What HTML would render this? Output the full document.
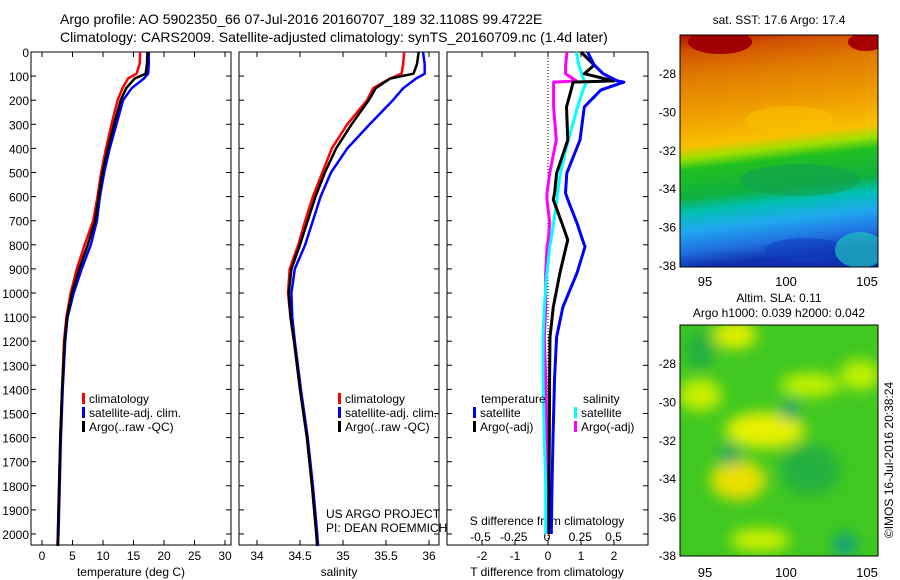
<!DOCTYPE html>
<html><head><meta charset="utf-8">
<style>
body{margin:0;background:#fff;}
svg{display:block;font-family:"Liberation Sans",sans-serif;}
text{fill:#000;}
</style></head>
<body>
<svg id="chart" width="900" height="580" viewBox="0 0 900 580" xmlns="http://www.w3.org/2000/svg">
<defs>
<linearGradient id="sst" x1="0" y1="0" x2="0.1" y2="1">
<stop offset="0" stop-color="#b01000"/>
<stop offset="0.07" stop-color="#d05000"/>
<stop offset="0.18" stop-color="#e07a00"/>
<stop offset="0.36" stop-color="#f0a000"/>
<stop offset="0.48" stop-color="#f8c000"/>
<stop offset="0.53" stop-color="#a0e000"/>
<stop offset="0.58" stop-color="#20c020"/>
<stop offset="0.7" stop-color="#10b040"/>
<stop offset="0.76" stop-color="#00c0b0"/>
<stop offset="0.84" stop-color="#20a8f0"/>
<stop offset="0.93" stop-color="#2070e0"/>
<stop offset="1" stop-color="#1030b0"/>
</linearGradient>
<filter id="blur"><feGaussianBlur stdDeviation="7"/></filter>
<clipPath id="c2"><rect x="680" y="325" width="198" height="231"/></clipPath>
<clipPath id="c1"><rect x="680" y="35" width="198" height="232"/></clipPath>
</defs>
<text x="60" y="24" font-size="14">Argo profile: AO 5902350_66 07-Jul-2016 20160707_189 32.1108S 99.4722E</text>
<text x="60" y="42" font-size="14">Climatology: CARS2009. Satellite-adjusted climatology: synTS_20160709.nc (1.4d later)</text>
<g id="g"></g>
<g clip-path="url(#c1)">
<rect x="680" y="35" width="198" height="232" fill="url(#sst)"/>
<ellipse cx="720" cy="42" rx="32" ry="12" fill="#a00000"/>
<ellipse cx="866" cy="42" rx="18" ry="9" fill="#a80000"/>
<ellipse cx="790" cy="120" rx="45" ry="14" fill="#f8c000" opacity="0.6"/>
<ellipse cx="800" cy="180" rx="60" ry="16" fill="#10a050" opacity="0.6"/>
<ellipse cx="805" cy="250" rx="40" ry="12" fill="#1040c0" opacity="0.6"/>
<ellipse cx="860" cy="250" rx="25" ry="18" fill="#20c0c0" opacity="0.7"/>
</g>
<rect x="680" y="35" width="198" height="232" fill="none" stroke="#000"/>
<text x="779" y="24" font-size="12" text-anchor="middle">sat. SST: 17.6 Argo: 17.4</text>
<g clip-path="url(#c2)">
<rect x="680" y="325" width="198" height="231" fill="#40c820"/>
<g filter="url(#blur)">
<ellipse cx="735" cy="335" rx="22" ry="14" fill="#e0f000"/>
<ellipse cx="700" cy="395" rx="22" ry="16" fill="#c8f000"/>
<ellipse cx="765" cy="430" rx="40" ry="18" fill="#e8f000"/>
<ellipse cx="738" cy="480" rx="28" ry="20" fill="#e8e000"/>
<ellipse cx="810" cy="385" rx="30" ry="12" fill="#c0f000"/>
<ellipse cx="860" cy="375" rx="20" ry="15" fill="#c0f000"/>
<ellipse cx="760" cy="540" rx="30" ry="12" fill="#c8f000"/>
<ellipse cx="790" cy="410" rx="10" ry="10" fill="#10a070"/>
<ellipse cx="730" cy="455" rx="10" ry="10" fill="#10a070"/>
<ellipse cx="845" cy="545" rx="12" ry="12" fill="#10a080"/>
<ellipse cx="810" cy="470" rx="30" ry="25" fill="#20b040"/>
<ellipse cx="700" cy="350" rx="15" ry="20" fill="#20b040"/>
</g>
</g>
<rect x="680" y="325" width="198" height="231" fill="none" stroke="#000"/>
<text x="779" y="302" font-size="12" text-anchor="middle">Altim. SLA: 0.11</text>
<text x="779" y="317" font-size="12" text-anchor="middle">Argo h1000: 0.039 h2000: 0.042</text>
<text transform="translate(893,460) rotate(-90)" font-size="12" text-anchor="middle">©IMOS 16-Jul-2016 20:38:24</text>
<text x="326" y="518" font-size="12">US ARGO PROJECT</text>
<text x="326" y="532" font-size="12">PI: DEAN ROEMMICH</text>
</svg>
<script>
const depthT = [0,50,90,110,150,200,300,400,500,600,700,800,900,1000,1100,1200,1400,1600,1800,2000,2050];
const tempClim = [16.1,16.0,15.5,14.1,13.2,12.4,11.4,10.5,9.7,9.1,8.4,7.0,5.7,4.7,4.0,3.6,3.3,3.0,2.8,2.6,2.5];
const tempSat  = [17.5,17.5,17.4,16.7,14.7,13.3,12.2,11.1,10.2,9.5,9.0,8.0,6.5,5.2,4.2,3.8,3.4,3.1,2.9,2.7,2.6];
const tempArgo = [17.3,17.2,17.0,15.2,13.8,12.9,11.8,10.8,9.9,9.3,8.7,7.5,6.1,4.9,4.1,3.7,3.3,3.0,2.8,2.6,2.6];
const salClim = [35.71,35.70,35.68,35.55,35.35,35.28,35.05,34.87,34.76,34.65,34.56,34.48,34.38,34.36,34.39,34.43,34.5,34.58,34.64,34.69,34.70];
const salSat  = [35.93,35.95,35.95,35.85,35.7,35.58,35.31,35.05,34.86,34.74,34.65,34.56,34.44,34.40,34.41,34.44,34.51,34.59,34.65,34.70,34.71];
const salArgo = [35.88,35.86,35.82,35.55,35.38,35.3,35.1,34.92,34.79,34.68,34.59,34.5,34.4,34.37,34.39,34.43,34.5,34.58,34.64,34.69,34.70];
const depthD = [0,54,90,120,125,158,228,365,503,585,613,710,780,808,917,1058,1183,1350,1600,1800,2000];
const dTSat  = [1.2,1.4,1.67,2.1,2.3,1.6,1.1,0.97,0.57,0.53,0.6,0.88,1.05,1.12,0.88,0.45,0.26,0.2,0.15,0.12,0.1];
const dTArgo = [1.0,1.4,1.1,2.0,0.76,0.7,0.56,0.6,0.26,0.2,0.16,0.42,0.6,0.55,0.36,0.16,0.06,0.05,0.04,0.03,0.03];
const dSSat  = [0.22,0.24,0.26,0.28,0.3,0.27,0.23,0.16,0.1,0.08,0.075,0.05,0.03,0.02,0.0,-0.02,-0.03,-0.03,-0.02,-0.01,-0.01];
const dSArgo = [0.15,0.14,0.14,0.22,0.05,0.05,0.05,0.07,0.02,0.0,0.0,0.02,0.01,0.0,-0.01,-0.01,-0.02,-0.01,0,0,0];
const depthTicks = [0,100,200,300,400,500,600,700,800,900,1000,1100,1200,1300,1400,1500,1600,1700,1800,1900,2000];
const tTicks = [0,5,10,15,20,25,30];
const sTicks = [34,34.5,35,35.5,36];
const sTickLabels = ['34','34.5','35','35.5','36'];
const dtTicks = [-2,-1,0,1,2];
const dsTicks = [-0.5,-0.25,0,0.25,0.5];
const dsTickLabels = ['-0.5','-0.25','0','0.25','0.5'];
const latTicks=[-28,-30,-32,-34,-36,-38];
const lonTicks=[95,100,105];

const NS='http://www.w3.org/2000/svg';
const g=document.getElementById('g');
const yD = d => 52 + d*0.241;
const xT = v => 42 + v*6.1;
const xS = v => 257 + (v-34)*86;
const xDT = v => 548 + v*33;
const xDS = v => 547 + v*133;
function mk(tag, at, parent){const e=document.createElementNS(NS,tag);for(const k in at)e.setAttribute(k,at[k]);(parent||g).appendChild(e);return e;}
function txt(s,x,y,anchor,size){const e=mk('text',{x:x,y:y,'text-anchor':anchor||'middle','font-size':size||12});e.textContent=s;return e;}

const panels=[[31,231,'temperature-panel'],[239,439,'salinity-panel'],[447,648,'difference-panel']];
panels.forEach(p=>{
  const r=mk('rect',{x:p[0],y:52,width:p[1]-p[0],height:493,fill:'none',stroke:'#000'});
  
  
  depthTicks.forEach(d=>{
    mk('line',{x1:p[0],x2:p[0]+5,y1:yD(d),y2:yD(d),stroke:'#000'});
    mk('line',{x1:p[1],x2:p[1]-5,y1:yD(d),y2:yD(d),stroke:'#000'});
  });
});
depthTicks.forEach(d=>{
  const t=txt(String(d),29,yD(d)+5,'end',12);
  
  
});
tTicks.forEach(v=>{
  mk('line',{x1:xT(v),x2:xT(v),y1:545,y2:540,stroke:'#000'});
  mk('line',{x1:xT(v),x2:xT(v),y1:52,y2:57,stroke:'#000'});
  const t=txt(String(v),xT(v),560);
  
  
});
sTicks.forEach((v,i)=>{
  mk('line',{x1:xS(v),x2:xS(v),y1:545,y2:540,stroke:'#000'});
  mk('line',{x1:xS(v),x2:xS(v),y1:52,y2:57,stroke:'#000'});
  const t=txt(sTickLabels[i],xS(v),560);
  
  
});
dtTicks.forEach(v=>{
  mk('line',{x1:xDT(v),x2:xDT(v),y1:545,y2:540,stroke:'#000'});
  mk('line',{x1:xDT(v),x2:xDT(v),y1:52,y2:57,stroke:'#000'});
  const t=txt(String(v),xDT(v),560);
  
  
});
dsTicks.forEach((v,i)=>{
  const t=txt(dsTickLabels[i],xDS(v),541);
  
  
});
let t;
t=txt('temperature (deg C)',131,576);  
t=txt('salinity',339,576);  
t=txt('T difference from climatology',547,576);  
t=txt('S difference from climatology',547,525);  
const z=mk('line',{x1:xDT(0),x2:xDT(0),y1:52,y2:545,stroke:'#000','stroke-dasharray':'1,2'});



function line(depths, vals, xf, color, name, w){
  const pts=vals.map((v,i)=>xf(v).toFixed(1)+','+yD(depths[i]).toFixed(1)).join(' ');
  const e=mk('polyline',{points:pts,fill:'none',stroke:color,'stroke-width':w||2.5,'stroke-linejoin':'round'});
  
  
}
line(depthT,tempClim,xT,'#ff0000','temp-climatology-line');
line(depthT,tempSat,xT,'#0000ff','temp-satellite-line');
line(depthT,tempArgo,xT,'#000','temp-argo-line');
line(depthT,salClim,xS,'#ff0000','sal-climatology-line');
line(depthT,salSat,xS,'#0000ff','sal-satellite-line');
line(depthT,salArgo,xS,'#000','sal-argo-line');
line(depthD,dSArgo,xDS,'#ff00ff','s-diff-argo-line',3);
line(depthD,dSSat,xDS,'#00ffff','s-diff-satellite-line',3);
line(depthD,dTArgo,xDT,'#000','t-diff-argo-line',3);
line(depthD,dTSat,xDT,'#0000ff','t-diff-satellite-line',3);

function leg(x,y,color,label,name){
  const r=mk('rect',{x:x,y:y-10,width:3,height:11,fill:color});
  
  
  const tt=txt(label,x+7,y,'start',12);
  
  
}
[[82,'climatology-legend'],[338,'climatology-legend-2']].forEach(a=>{
  leg(a[0],403,'#ff0000','climatology',a[1]);
  leg(a[0],417,'#0000ff','satellite-adj. clim.','satellite-legend');
  leg(a[0],431,'#000','Argo(..raw -QC)','argo-legend');
});
t=txt('temperature',481,403,'start');  
t=txt('salinity',583,403,'start');  
leg(473,417,'#0000ff','satellite','t-satellite-legend');
leg(473,431,'#000','Argo(-adj)','t-argo-legend');
leg(574,417,'#00ffff','satellite','s-satellite-legend');
leg(574,431,'#ff00ff','Argo(-adj)','s-argo-legend');

const map1Lat = v => 73 + (-28 - v)*19.2;
const map2Lat = v => 363 + (-28 - v)*19.2;
const mapLon = v => 705 + (v-95)*16.2;
latTicks.forEach(v=>{
  [[map1Lat,'sst'],[map2Lat,'sla']].forEach(m=>{
    const y=m[0](v);
    mk('line',{x1:680,x2:684,y1:y,y2:y,stroke:'#000'});
    mk('line',{x1:878,x2:874,y1:y,y2:y,stroke:'#000'});
    const tt=txt(String(v),676,y+5,'end',12);
    
    
  });
});
lonTicks.forEach(v=>{
  [[267,286,35,'sst'],[556,577,325,'sla']].forEach(m=>{
    mk('line',{x1:mapLon(v),x2:mapLon(v),y1:m[0],y2:m[0]-4,stroke:'#000'});
    mk('line',{x1:mapLon(v),x2:mapLon(v),y1:m[2],y2:m[2]+4,stroke:'#000'});
    const tt=txt(String(v),mapLon(v),m[1],'middle',13);
    
    
  });
});
</script>
</body></html>
